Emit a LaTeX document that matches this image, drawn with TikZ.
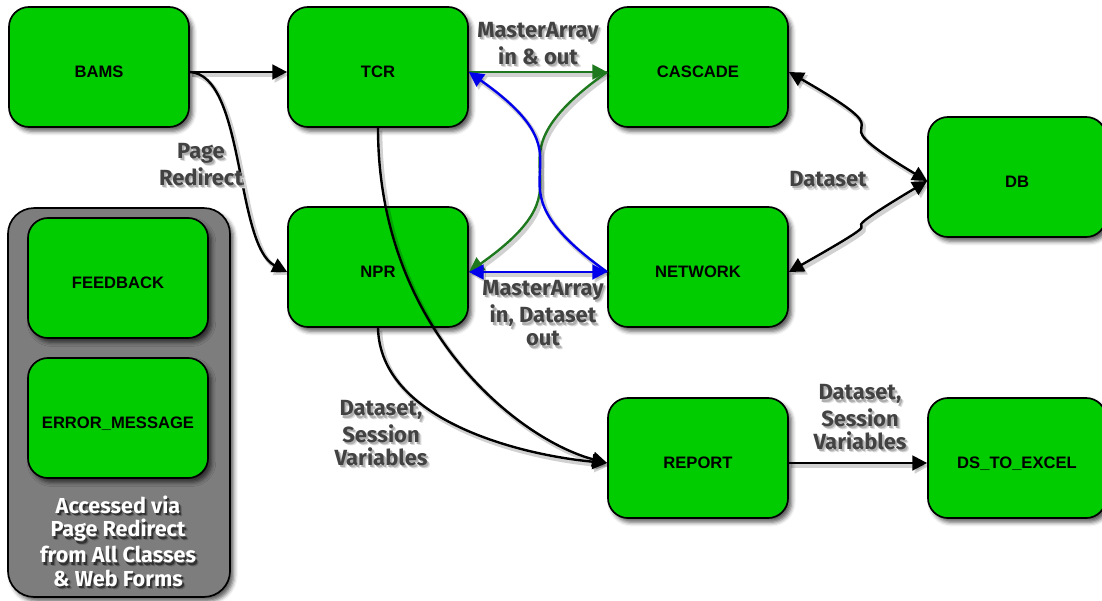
\documentclass[tikz,border=0pt]{standalone}
\usepackage{fontspec}
\setmainfont{Liberation Sans}
\newfontfamily\lblfont{Fira Sans}
\usetikzlibrary{arrows.meta,shadows.blur,calc}

\definecolor{boxgreen}{RGB}{0,204,0}
\definecolor{panelgray}{RGB}{125,125,125}
\definecolor{lblgray}{RGB}{66,66,66}
\definecolor{linkgreen}{RGB}{30,120,30}
\definecolor{linkblue}{RGB}{0,0,235}
\definecolor{gshadeA}{RGB}{220,220,220}
\definecolor{gshadeB}{RGB}{175,175,175}
\definecolor{wshadeA}{RGB}{100,100,100}
\definecolor{wshadeB}{RGB}{50,50,50}

% text with a soft drop shadow behind it
\newcommand\shd[3]{\leavevmode\rlap{\kern2.2pt\raisebox{-2.4pt}{\textcolor{#1}{#3}}}\rlap{\kern1.3pt\raisebox{-1.5pt}{\textcolor{#2}{#3}}}#3}
\newcommand\gs[1]{\shd{gshadeA}{gshadeB}{#1}}
\newcommand\ws[1]{\shd{wshadeA}{wshadeB}{#1}}

\tikzset{
  unit/.style={draw=black, line width=1.2pt, fill=boxgreen, rounded corners=0.5cm,
    minimum width=4.5cm, minimum height=3cm, inner sep=0pt,
    text height=15.5pt, text depth=0pt,
    font=\bfseries\fontsize{11.8}{13}\selectfont,
    blur shadow={shadow xshift=2.5pt, shadow yshift=-3pt, shadow opacity=65, shadow blur radius=3pt}},
  panel/.style={draw=black, line width=1.2pt, fill=panelgray, rounded corners=0.65cm,
    minimum width=5.55cm, minimum height=9.72cm, inner sep=0pt,
    blur shadow={shadow xshift=2.5pt, shadow yshift=-3pt, shadow opacity=65, shadow blur radius=3pt}},
  lbl/.style={text=lblgray, align=center, inner sep=0pt,
    font=\lblfont\bfseries\fontsize{15.6}{16.4}\selectfont},
  wlbl/.style={text=white, align=center, inner sep=0pt,
    font=\lblfont\bfseries\fontsize{15.4}{16.6}\selectfont},
  tip/.style={-{Triangle[length=10.5pt,width=10.5pt]}},
  tips/.style={{Triangle[length=10.5pt,width=10.5pt]}-{Triangle[length=10.5pt,width=10.5pt]}},
  lnk/.style={line width=1.7pt,
    preaction={draw=black, opacity=0.18, line width=3pt,
      transform canvas={xshift=1.6pt, yshift=-2pt}}},
}

\begin{document}
\begin{tikzpicture}[x=0.025cm, y=-0.025cm]
\useasboundingbox (0,0) rectangle (1102,600);

% grouped pages reached by redirect
\node[panel] (group) at (119,402.5) {};
\node[unit] (FEEDBACK) at (118,278) {FEEDBACK};
\node[unit] (ERRMSG) at (118,418) {ERROR\_MESSAGE};
\node[wlbl] (grouptext) at (118,543) {\ws{Accessed via}\\\ws{Page Redirect}\\\ws{from All Classes}\\\ws{\& Web Forms}};

% main pages
\node[unit] (BAMS) at (99,67) {BAMS};
\node[unit] (TCR) at (378,67) {TCR};
\node[unit] (CASCADE) at (698,67) {CASCADE};
\node[unit, minimum width=4.45cm] (DB) at (1017,177) {DB};
\node[unit] (NPR) at (378,267) {NPR};
\node[unit] (NETWORK) at (698,267) {NETWORK};
\node[unit] (REPORT) at (698,458) {REPORT};
\node[unit, minimum width=4.45cm] (DSX) at (1017,458) {DS\_TO\_EXCEL};

% connection points at text level
\coordinate (bamsE) at ($(BAMS.east)+(0,5)$);
\coordinate (tcrW) at ($(TCR.west)+(0,5)$);
\coordinate (tcrE) at ($(TCR.east)+(0,5)$);
\coordinate (tcrS) at (TCR.south);
\coordinate (casW) at ($(CASCADE.west)+(0,5)$);
\coordinate (casE) at ($(CASCADE.east)+(0,5)$);
\coordinate (nprW) at ($(NPR.west)+(0,5)$);
\coordinate (nprE) at ($(NPR.east)+(0,5)$);
\coordinate (nprS) at (NPR.south);
\coordinate (netW) at ($(NETWORK.west)+(0,5)$);
\coordinate (netE) at ($(NETWORK.east)+(0,5)$);
\coordinate (dbW) at ($(DB.west)+(0,4)$);
\coordinate (repW) at ($(REPORT.west)+(0,5)$);
\coordinate (repE) at ($(REPORT.east)+(0,5)$);
\coordinate (dsxW) at ($(DSX.west)+(0,5)$);

% black links
\draw[lnk, tip] (bamsE) -- (tcrW);
\draw[lnk, tip] (bamsE) .. controls (245,75) and (235,245) .. (nprW);
\draw[lnk, tip] (tcrS) .. controls (378,330) and (520,440) .. (repW);
\draw[lnk, tip] (nprS) .. controls (380,420) and (520,455) .. (repW);
\draw[lnk, tip] (repE) -- (dsxW);
\draw[lnk, tips] (dbW) .. controls (800,105) and (925,150) .. (casE);
\draw[lnk, tips] (dbW) .. controls (800,257) and (925,195) .. (netE);

% MasterArray exchanges
\draw[lnk, tip, draw=linkgreen] (tcrE) -- (casW);
\draw[lnk, tip, draw=linkgreen] (casW) .. controls (470,169.5) and (607,174.5) .. (nprE);
\draw[lnk, tip, draw=linkblue] (netW) .. controls (470,174.5) and (607,169.5) .. (tcrE);
\draw[lnk, tips, draw=linkblue] (nprE) -- (netW);

% link labels
\node[lbl] (lPage) at (201,166) {\gs{Page}\\\gs{Redirect}};
\node[lbl] (lMA1) at (538,45) {\gs{MasterArray}\\\gs{in \& out}};
\node[lbl] (lMA2) at (543,315) {\gs{MasterArray}\\\gs{in, Dataset}\\\gs{out}};
\node[lbl] (lDS) at (828,181) {\gs{Dataset}};
\node[lbl] (lSV1) at (381,435) {\gs{Dataset,}\\\gs{Session}\\\gs{Variables}};
\node[lbl] (lSV2) at (860,419) {\gs{Dataset,}\\\gs{Session}\\\gs{Variables}};
\end{tikzpicture}
\end{document}
